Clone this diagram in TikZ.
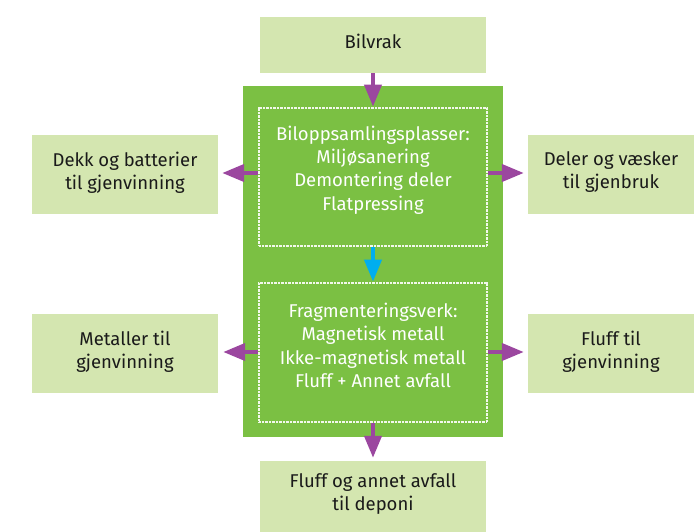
\documentclass[tikz,border=0pt]{standalone}
\usepackage{fontspec}
\setmainfont{Fira Sans}
\usetikzlibrary{arrows.meta}
\definecolor{lightgreen}{HTML}{D4E6B0}
\definecolor{biggreen}{HTML}{7BC043}
\definecolor{arrowpurple}{HTML}{9B479F}
\definecolor{arrowblue}{HTML}{00AEEF}
\definecolor{textdark}{HTML}{1A1A1A}
\tikzset{
  outbox/.style={fill=lightgreen, draw=none, inner sep=0pt},
  outtext/.style={align=center, inner sep=0pt, text=textdark,
    font=\fontsize{18.5}{23}\selectfont},
  stagebox/.style={draw=white, draw opacity=0.9, line width=2.8pt,
    dash pattern=on 0.9pt off 0.5pt, inner sep=0pt},
  stagetext/.style={align=center, inner sep=0pt, text=white,
    font=\fontsize{18.5}{23.3}\selectfont},
  flow/.style={draw=arrowpurple, line width=4pt,
    -{Triangle[width=17pt,length=22pt]}},
  inflow/.style={draw=arrowblue, line width=4pt,
    -{Triangle[width=17pt,length=22pt]}},
}
\begin{document}
\begin{tikzpicture}[x=1pt,y=-1pt]
\useasboundingbox (0,0) rectangle (694,532);
% outer green area
\node[fill=biggreen, minimum width=260pt, minimum height=351pt, inner sep=0pt] (core) at (373,261.5) {};
% boxes
\node[outbox, minimum width=226pt, minimum height=56pt] (bil) at (373,45) {};
\node[outtext] (bilt) at ([yshift=4pt]bil.center) {Bilvrak};
\node[stagebox, minimum width=228pt, minimum height=138pt] (in1) at (373,177) {};
\node[stagetext] (in1t) at ([yshift=7pt]in1.center) {Biloppsamlingsplasser:\\Miljøsanering\\Demontering deler\\Flatpressing};
\node[stagebox, minimum width=228pt, minimum height=139pt] (in2) at (373,352.5) {};
\node[stagetext] (in2t) at ([yshift=7pt]in2.center) {Fragmenteringsverk:\\Magnetisk metall\\Ikke-magnetisk metall\\Fluff + Annet avfall};
\node[outbox, minimum width=186pt, minimum height=79pt] (l1) at (125,174.5) {};
\node[outtext] (l1t) at ([yshift=2pt]l1.center) {Dekk og batterier\\til gjenvinning};
\node[outbox, minimum width=166pt, minimum height=79pt] (r1) at (611,174.5) {};
\node[outtext] (r1t) at ([yshift=2pt]r1.center) {Deler og væsker\\til gjenbruk};
\node[outbox, minimum width=186pt, minimum height=79pt] (l2) at (125,353.5) {};
\node[outtext] (l2t) at ([yshift=2pt]l2.center) {Metaller til\\gjenvinning};
\node[outbox, minimum width=166pt, minimum height=79pt] (r2) at (611,353.5) {};
\node[outtext] (r2t) at ([yshift=2pt]r2.center) {Fluff til\\gjenvinning};
\node[outbox, minimum width=226pt, minimum height=71pt] (bot) at (373,496.5) {};
\node[outtext] (bott) at ([yshift=2pt]bot.center) {Fluff og annet avfall\\til deponi};
% connectors
\draw[flow] (bil.south) -- (in1.north);
\draw[inflow] (in1.south) -- (in2.north);
\draw[flow, shorten >=4pt] (in1.west |- 0,173) -- (l1.east |- 0,173);
\draw[flow, shorten >=4pt] (in1.east |- 0,173) -- (r1.west |- 0,173);
\draw[flow, shorten >=5pt] (in2.west |- 0,352) -- (l2.east |- 0,352);
\draw[flow, shorten >=4pt] (in2.east |- 0,352) -- (r2.west |- 0,352);
\draw[flow, shorten >=3pt] (in2.south) -- (bot.north);
\end{tikzpicture}
\end{document}
